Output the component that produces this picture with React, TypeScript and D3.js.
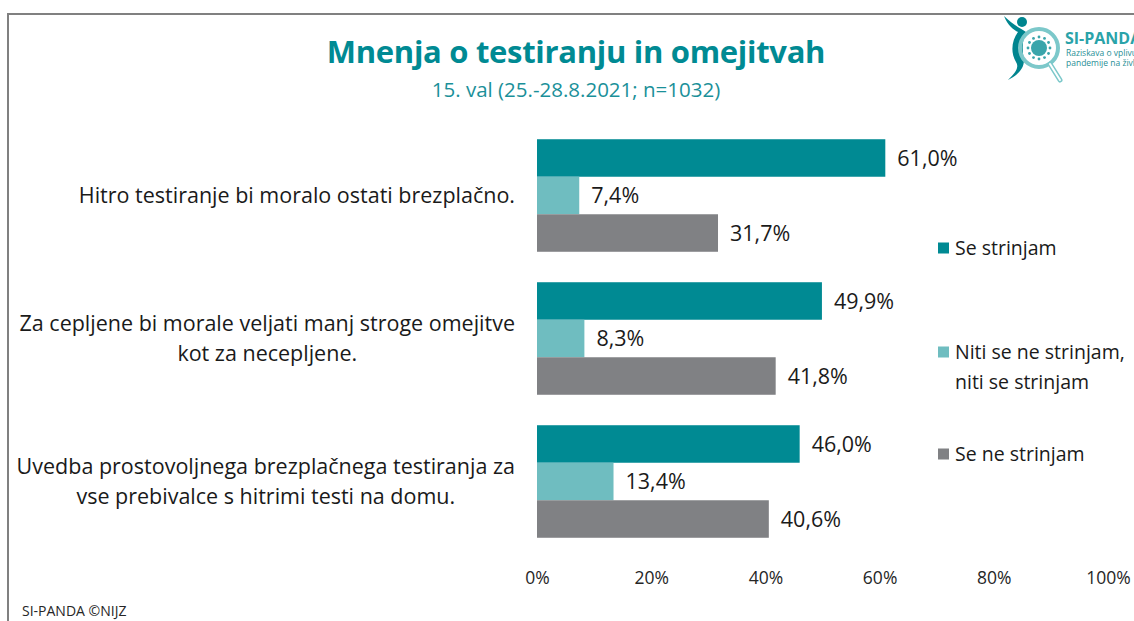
import React, { useEffect, useRef } from 'react'
import * as d3 from 'd3'

const categories = [
  'Hitro testiranje bi moralo ostati brezplačno.',
  'Za cepljene bi morale veljati manj stroge omejitve|kot za necepljene.',
  'Uvedba prostovoljnega brezplačnega testiranja za|vse prebivalce s hitrimi testi na domu.',
]
const seriesNames = ['Se strinjam', 'Niti se ne strinjam,|niti se strinjam', 'Se ne strinjam']
const agree = [61.0, 49.9, 46.0]
const neutral = [7.4, 8.3, 13.4]
const disagree = [31.7, 41.8, 40.6]
const xTicks = [0, 20, 40, 60, 80, 100]
const colors = ['#008a93', '#6fbdc0', '#808184']

const W = 1134
const H = 621
const FONT = '"Open Sans", Lato, sans-serif'

const App = () => {
  const ref = useRef<SVGSVGElement>(null)

  useEffect(() => {
    document.body.style.margin = '0'
    const svg = d3.select(ref.current)
    svg.selectAll('*').remove()
    svg.style('font-family', FONT)

    // frame lines
    svg.append('line').attr('x1', 7).attr('x2', W).attr('y1', 14).attr('y2', 14)
      .attr('stroke', '#808080').attr('stroke-width', 2)
    svg.append('line').attr('x1', 8).attr('x2', 8).attr('y1', 13).attr('y2', H)
      .attr('stroke', '#808080').attr('stroke-width', 2)

    // titles
    svg.append('text').attr('x', 576).attr('y', 63).attr('text-anchor', 'middle')
      .attr('font-size', 31).attr('font-weight', 'bold').attr('fill', '#008a93')
      .attr('letter-spacing', -0.3)
      .text('Mnenja o testiranju in omejitvah')
    svg.append('text').attr('x', 576).attr('y', 97).attr('text-anchor', 'middle')
      .attr('font-size', 20.5).attr('fill', '#1a9099')
      .text('15. val (25.-28.8.2021; n=1032)')

    const series = [agree, neutral, disagree]
    const x = d3.scaleLinear().domain([0, 100]).range([537, 1108])
    const y = d3.scaleBand<number>().domain(d3.range(categories.length))
      .range([124, 553]).paddingInner(0.213).paddingOuter(0.1065)
    const yInner = d3.scaleBand<number>().domain(d3.range(series.length))
      .range([0, y.bandwidth()])

    const locale = d3.formatLocale({ decimal: ',', thousands: '.', grouping: [3], currency: ['', '€'] })
    const fmt = locale.format('.1f')

    const groups = svg.selectAll('g.cat')
      .data(categories)
      .enter()
      .append('g')
      .attr('class', 'cat')
      .attr('transform', (d, i) => `translate(0, ${y(i)})`)

    groups.each(function (cat, ci) {
      const g = d3.select(this)
      series.forEach((vals, si) => {
        const v = vals[ci]
        g.append('rect')
          .attr('x', x(0))
          .attr('y', yInner(si)!)
          .attr('width', x(v) - x(0))
          .attr('height', yInner.bandwidth())
          .attr('fill', colors[si])
        g.append('text')
          .attr('x', x(v) + 12)
          .attr('y', yInner(si)! + yInner.bandwidth() / 2)
          .attr('dy', '0.35em')
          .attr('font-size', 21.5)
          .attr('fill', '#1a1a1a')
          .text(fmt(v) + '%')
      })

      // category label, lines centred, block right-aligned
      const lines = cat.split('|')
      const lab = g.append('g')
      const lh = 30
      lines.forEach((ln, li) => {
        lab.append('text')
          .attr('x', 0)
          .attr('y', y.bandwidth() / 2 + (li - (lines.length - 1) / 2) * lh)
          .attr('dy', '0.35em')
          .attr('text-anchor', 'middle')
          .attr('font-size', 21.5)
          .attr('fill', '#1a1a1a')
          .text(ln)
      })
      const bb = (lab.node() as SVGGElement).getBBox()
      lab.attr('transform', `translate(${515 - (bb.x + bb.width)}, 0)`)
    })

    // x axis labels
    const axis = svg.append('g')
      .attr('transform', 'translate(0, 569)')
      .call(d3.axisBottom(x).tickValues(xTicks).tickSize(0).tickFormat((d) => `${d}%`))
    axis.select('.domain').remove()
    axis.selectAll('text').attr('font-size', 17.5).attr('font-family', FONT).attr('fill', '#262626')

    // legend
    const legendY = [248, 352, 454]
    seriesNames.forEach((name, i) => {
      const lg = svg.append('g').attr('transform', `translate(938, ${legendY[i]})`)
      lg.append('rect').attr('x', 0).attr('y', -5.5).attr('width', 11).attr('height', 11).attr('fill', colors[i])
      name.split('|').forEach((ln, li) => {
        lg.append('text').attr('x', 17).attr('y', li * 30).attr('dy', '0.35em')
          .attr('font-size', 19.5).attr('fill', '#1a1a1a').text(ln)
      })
    })

    // footer
    svg.append('text').attr('x', 22).attr('y', 616).attr('font-size', 14)
      .attr('fill', '#262626').text('SI-PANDA ©NIJZ')

    // logo
    const logo = svg.append('g')
    logo.append('path')
      .attr('d', 'M1004,16 C1008,26 1014,30 1018,32 C1012,40 1010,52 1016,62 C1020,68 1014,74 1008,80 C1016,76 1024,70 1024,60 C1022,50 1022,40 1026,32 C1020,28 1012,24 1004,16 Z')
      .attr('fill', '#00858f')
    logo.append('circle').attr('cx', 1022).attr('cy', 22).attr('r', 5).attr('fill', '#00858f')
    logo.append('circle').attr('cx', 1039).attr('cy', 48).attr('r', 19)
      .attr('fill', 'none').attr('stroke', '#7cc8ca').attr('stroke-width', 4)
    logo.append('line').attr('x1', 1050).attr('y1', 64).attr('x2', 1060).attr('y2', 80)
      .attr('stroke', '#7cc8ca').attr('stroke-width', 5).attr('stroke-linecap', 'round')
    logo.append('line').attr('x1', 1050).attr('y1', 64).attr('x2', 1060).attr('y2', 80)
      .attr('stroke', '#fff').attr('stroke-width', 2).attr('stroke-linecap', 'round')
    logo.append('circle').attr('cx', 1039).attr('cy', 48).attr('r', 8).attr('fill', '#3aa5ab')
    d3.range(12).forEach((k) => {
      const a = (k / 12) * Math.PI * 2
      logo.append('circle').attr('cx', 1039 + Math.cos(a) * 11).attr('cy', 48 + Math.sin(a) * 11)
        .attr('r', 1.4).attr('fill', '#3aa5ab')
    })
    logo.append('text').attr('x', 1065).attr('y', 44).attr('font-size', 16).attr('font-weight', 'bold')
      .attr('fill', '#2aa3a9').text('SI-PANDA')
    logo.append('text').attr('x', 1066).attr('y', 56).attr('font-size', 8.5)
      .attr('fill', '#2a8f96').text('Raziskava o vplivu')
    logo.append('text').attr('x', 1066).attr('y', 66).attr('font-size', 8.5)
      .attr('fill', '#2a8f96').text('pandemije na življenje')
  }, [])

  return <svg ref={ref} width={W} height={H} style={{ display: 'block', background: '#fff' }} />
}

export default App
